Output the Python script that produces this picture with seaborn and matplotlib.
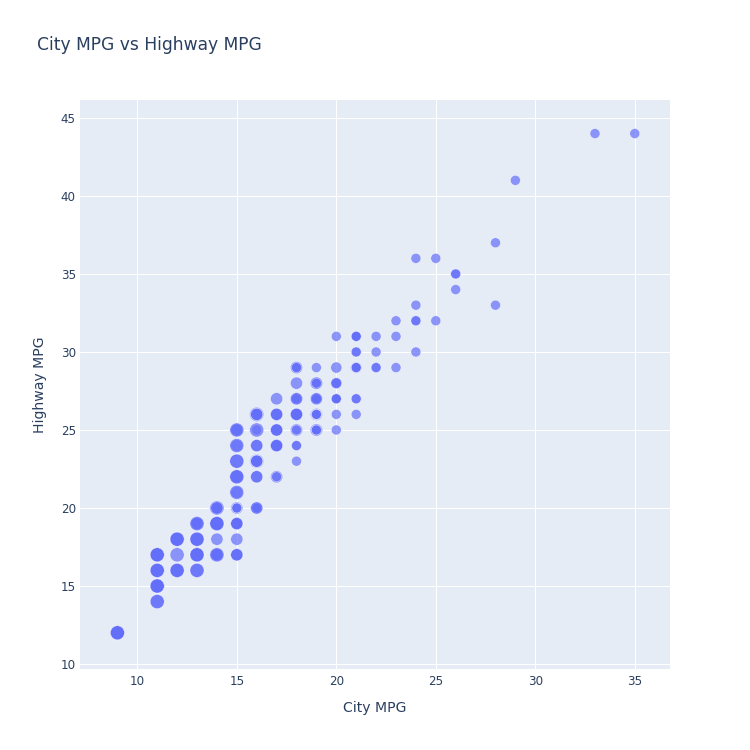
import pandas as pd
import matplotlib
matplotlib.use("Agg")
import matplotlib.pyplot as plt
import seaborn as sns

# city / highway mpg and cylinders, one entry per car (ggplot2 mpg)
cty = [18, 21, 20, 21, 16, 18, 18,
       18, 16, 20, 19, 15, 17, 17, 15,
       15, 17, 16,
       14, 11, 14, 13, 12,
       16, 15, 16, 15, 15,
       14, 11, 11, 14,
       19, 22, 18, 18, 17,
       18, 17, 16, 16, 17, 17, 11, 15, 15, 16, 16,
       15, 14, 13, 14, 14, 14, 9, 11, 11,
       13, 13, 13, 9, 11, 13, 11,
       12, 9, 13, 13, 11, 11, 13, 11, 12, 12,
       11, 11, 12,
       14, 15, 14, 13, 13, 13,
       14, 14, 13, 13, 13, 11, 13,
       18, 18, 17, 16, 15, 15, 15, 15, 14,
       28, 24, 25, 23, 24, 26, 25, 24, 21,
       18, 18, 21, 21, 18, 18, 19,
       19, 19, 20, 20, 17, 16, 17,
       17, 15, 15, 14, 9, 14, 13, 11,
       11, 12, 12, 11,
       11, 11, 12,
       14, 13, 13, 13,
       21, 19, 23, 23, 19, 19,
       18, 19, 19,
       14, 15, 14, 12,
       18, 16, 17, 18, 16,
       18, 18, 20, 19, 20, 18,
       21, 19, 19, 19, 20, 20, 19, 20,
       15, 16, 15, 15, 16, 14,
       21, 21, 21, 21, 18, 18, 19,
       21, 21, 21, 22, 18, 18, 18,
       24, 24, 26, 28, 26,
       11, 13,
       15, 16, 17, 15, 15, 15, 16,
       21, 19, 21, 22, 17,
       33, 21, 19, 22, 21, 21, 21, 16, 17,
       35, 29, 21, 19, 20, 20,
       21, 18, 19, 21, 16, 18, 17]

hwy = [29, 29, 31, 30, 26, 26, 27,
       26, 25, 28, 27, 25, 25, 25, 25,
       24, 25, 23,
       20, 15, 20, 17, 17,
       26, 23, 26, 25, 24,
       19, 14, 15, 17,
       27, 30, 26, 29, 26,
       24, 24, 22, 22, 24, 24, 17, 22, 21, 23, 23,
       19, 18, 17, 17, 19, 19, 12, 17, 15,
       17, 17, 17, 12, 16, 18, 15,
       16, 12, 17, 17, 15, 16, 17, 15, 16, 16,
       17, 17, 18,
       17, 19, 17, 19, 19, 17,
       17, 17, 16, 16, 17, 15, 17,
       26, 25, 26, 24, 21, 22, 23, 22, 20,
       33, 32, 32, 29, 32, 34, 36, 36, 29,
       26, 27, 30, 31, 26, 26, 28,
       26, 29, 28, 27, 24, 24, 24,
       22, 19, 20, 17, 12, 19, 18, 14,
       15, 18, 18, 15,
       17, 16, 18,
       17, 19, 19, 17,
       29, 27, 31, 32, 27, 26,
       26, 25, 25,
       17, 17, 20, 18,
       26, 26, 27, 28, 25,
       25, 24, 27, 25, 26, 23,
       26, 26, 26, 26, 25, 27, 25, 27,
       20, 20, 19, 17, 20, 17,
       29, 27, 31, 31, 26, 26, 28,
       27, 29, 31, 31, 26, 26, 27,
       30, 33, 35, 37, 35,
       15, 18,
       20, 20, 22, 17, 19, 18, 20,
       29, 26, 29, 29, 24,
       44, 29, 26, 29, 29, 29, 29, 23, 24,
       44, 41, 29, 26, 28, 29,
       29, 29, 28, 29, 26, 26, 26]

cyl = [4, 4, 4, 4, 6, 6, 6,
       4, 4, 4, 4, 6, 6, 6, 6,
       6, 6, 8,
       8, 8, 8, 8, 8,
       8, 8, 8, 8, 8,
       8, 8, 8, 8,
       4, 4, 6, 6, 6,
       4, 6, 6, 6, 6, 6, 6, 6, 6, 6, 6,
       6, 6, 6, 6, 8, 8, 8, 8, 8,
       6, 8, 8, 8, 8, 8, 8,
       8, 8, 8, 8, 8, 8, 8, 8, 8, 8,
       8, 8, 8,
       6, 6, 6, 6, 8, 8,
       6, 6, 8, 8, 8, 8, 8,
       6, 6, 6, 6, 8, 8, 8, 8, 8,
       4, 4, 4, 4, 4, 4, 4, 4, 4,
       4, 4, 4, 4, 6, 6, 6,
       4, 4, 4, 4, 6, 6, 6,
       6, 6, 6, 8, 8, 8, 8, 8,
       8, 8, 8, 8,
       8, 8, 8,
       6, 6, 8, 8,
       4, 4, 4, 4, 6, 6,
       6, 6, 6,
       6, 6, 6, 8,
       6, 6, 6, 6, 8,
       4, 4, 4, 4, 4, 4,
       4, 4, 4, 4, 4, 4, 4, 4,
       4, 4, 6, 6, 6, 8,
       4, 4, 4, 4, 6, 6, 6,
       4, 4, 4, 4, 6, 6, 6,
       4, 4, 4, 4, 4,
       8, 8,
       4, 4, 4, 6, 6, 6, 6,
       4, 4, 4, 4, 6,
       4, 4, 4, 4, 4, 5, 5, 6, 6,
       4, 4, 4, 4, 5, 5,
       4, 4, 4, 4, 6, 6, 6]

df = pd.DataFrame({"City MPG": cty, "Highway MPG": hwy, "cyl": cyl})

text_col = "#2a3f5f"
sns.set_theme(style="darkgrid", rc={
    "axes.facecolor": "#E5ECF6",
    "grid.color": "white",
    "grid.linewidth": 0.75,
})
plt.rcParams["font.family"] = ["DejaVu Sans"]

fig = plt.figure(figsize=(7.5, 7.5), dpi=100)
ax = fig.add_axes([80 / 750, 81 / 750, 590 / 750, 569 / 750])

sns.scatterplot(data=df, x="City MPG", y="Highway MPG", size="cyl",
                sizes=(52, 104), color="#636efa", alpha=0.7,
                edgecolor="white", linewidth=0.4, legend=False, ax=ax)

ax.set_xlim(7.12, 36.77)
ax.set_ylim(9.68, 46.15)
ax.set_xticks(range(10, 36, 5))
ax.set_yticks(range(10, 46, 5))
ax.tick_params(axis="both", length=0, labelsize=8.6, colors=text_col)
ax.tick_params(axis="x", pad=4)
ax.tick_params(axis="y", pad=3)
for s in ax.spines.values():
    s.set_visible(False)

ax.set_xlabel("City MPG", fontsize=10.1, color=text_col, labelpad=10)
ax.set_ylabel("Highway MPG", fontsize=10.1, color=text_col, labelpad=10)

fig.text(37 / 750, 1 - 45 / 750, "City MPG vs Highway MPG", fontsize=12.3,
         color=text_col, va="center", ha="left")

fig.savefig("out.png", dpi=100, facecolor="white")
